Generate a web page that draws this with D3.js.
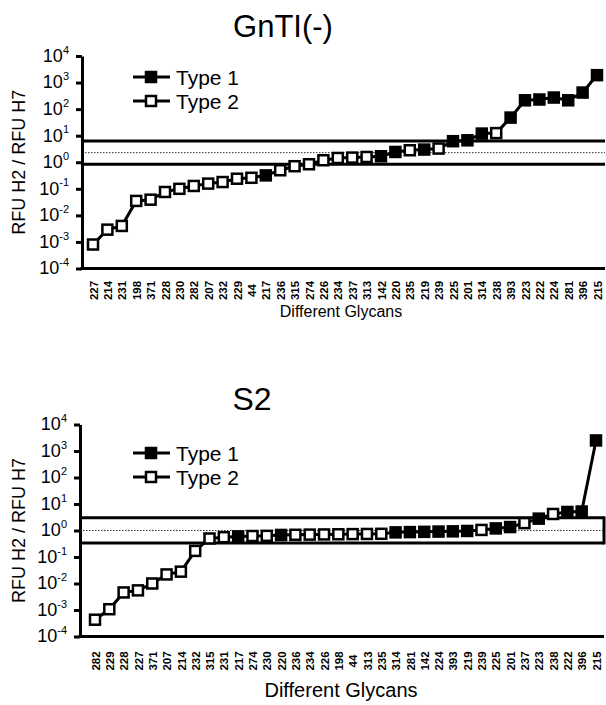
<!DOCTYPE html>
<html>
<head>
<meta charset="utf-8">
<script src="https://cdn.jsdelivr.net/npm/d3@7"></script>
<style>
  body { margin: 0; background: #fff; }
  svg { display: block; font-family: "Liberation Sans", Arial, sans-serif; }
</style>
</head>
<body>
<svg id="chart" width="606" height="705"></svg>
<script>
// glycan order along the x axis, one list per panel
var glycansGnTI = ["227","214","231","198","371","228","230","282","207","232","229","44","217","236","315","274","226","234",
  "237","313","142","220","235","219","239","225","201","314","238","393","223","222","224","281","396","215"];
var ratiosGnTI = [0.0008,0.0029,0.004,0.035,0.039,0.076,0.10,0.128,0.157,0.18,0.24,0.26,0.32,0.50,0.71,0.84,1.19,1.45,
  1.5,1.58,1.68,2.44,2.83,3.0,3.28,6.2,6.7,12,12.5,48,215,230,273,215,420,1900];

var glycansS2 = ["282","229","228","227","371","207","214","232","315","231","217","274","230","220","236","234","226","198",
  "44","313","235","314","281","142","224","393","219","239","225","201","237","223","238","222","396","215"];
var ratiosS2 = [0.00043,0.00107,0.0046,0.0055,0.010,0.022,0.028,0.17,0.50,0.56,0.60,0.62,0.63,0.68,0.69,0.70,0.71,0.72,
  0.73,0.74,0.75,0.85,0.87,0.89,0.91,0.93,0.96,1.05,1.2,1.35,1.9,2.8,4.2,5.0,5.2,2500];

// glycans drawn with filled squares
var type1Glycans = ["217","142","220","219","225","201","314","393","223","222","224","281","396","215"];

// lower, middle (dotted), upper cut-off
var cutoffsGnTI = [0.84, 2.3, 6.3];
var cutoffsS2 = [0.34, 1, 3];

var tickExponents = [-4,-3,-2,-1,0,1,2,3,4];
var legendLabels = ["Type 1","Type 2"];
var panelTitles = ["GnTI(-)","S2"];
var xTitle = "Different Glycans",
  yTitle = "RFU H2 / RFU H7";

var svg = d3.select("#chart");

function drawPanel(p) {
  var g = svg.append("g").attr("class", "panel");

  var x = d3.scalePoint()
    .domain(p.glycans)
    .range([p.x0, p.x1]);

  var y = d3.scaleLog()
    .domain([1e-4, 1e4])
    .range([p.bottom, p.top]);

  // cut-off lines
  g.append("line")
    .attr("x1", p.left).attr("x2", p.right)
    .attr("y1", y(p.cutoffs[0])).attr("y2", y(p.cutoffs[0]))
    .attr("stroke", "#000").attr("stroke-width", 3);
  g.append("line")
    .attr("x1", p.left).attr("x2", p.right)
    .attr("y1", y(p.cutoffs[2])).attr("y2", y(p.cutoffs[2]))
    .attr("stroke", "#000").attr("stroke-width", 3);
  g.append("line")
    .attr("x1", p.left).attr("x2", p.right)
    .attr("y1", y(p.cutoffs[1])).attr("y2", y(p.cutoffs[1]))
    .attr("stroke", "#333").attr("stroke-width", 1)
    .attr("stroke-dasharray", "1.5,1.5");
  if (p.box) {
    g.append("line")
      .attr("x1", p.right).attr("x2", p.right)
      .attr("y1", y(p.cutoffs[2]) - 1.5).attr("y2", y(p.cutoffs[0]) + 1.5)
      .attr("stroke", "#000").attr("stroke-width", 3);
  }

  // x axis
  var xAxis = g.append("g")
    .attr("transform", "translate(0," + p.bottom + ")")
    .call(d3.axisBottom(x).tickSize(0));
  xAxis.select(".domain").remove();
  xAxis.selectAll("text")
    .attr("y", 0)
    .attr("dy", "0.36em")
    .attr("transform", "translate(0," + p.labelOffset + ") rotate(-90)")
    .attr("text-anchor", "middle")
    .attr("font-family", "'Liberation Sans', Arial, sans-serif")
    .attr("font-weight", "bold")
    .attr("font-size", "11.5px")
    .attr("fill", "#000");
  g.append("line")
    .attr("x1", p.left - 1.5).attr("x2", p.right)
    .attr("y1", p.bottom).attr("y2", p.bottom)
    .attr("stroke", "#000").attr("stroke-width", 3);

  // y axis
  var yAxis = g.append("g")
    .attr("transform", "translate(" + p.left + ",0)")
    .call(d3.axisLeft(y)
      .tickValues(tickExponents.map(function (e) { return Math.pow(10, e); }))
      .tickSize(6)
      .tickSizeOuter(0)
      .tickPadding(7)
      .tickFormat(""));
  yAxis.select(".domain").attr("stroke", "#000").attr("stroke-width", 3);
  yAxis.selectAll(".tick line").attr("stroke", "#000").attr("stroke-width", 3);
  yAxis.selectAll(".tick text")
    .attr("font-family", "'Liberation Sans', Arial, sans-serif")
    .attr("font-size", "18px")
    .attr("fill", "#000")
    .attr("dy", "0.3em")
    .each(function (d) {
      var t = d3.select(this);
      t.append("tspan").text("10");
      t.append("tspan")
        .attr("dy", "-0.75em")
        .attr("font-size", "11px")
        .text(Math.round(Math.log10(d)));
    });

  // series line and markers
  var pts = p.glycans.map(function (k, i) { return {glycan: k, value: p.values[i]}; });

  var line = d3.line()
    .x(function (d) { return x(d.glycan); })
    .y(function (d) { return y(d.value); });

  g.append("path")
    .datum(pts)
    .attr("d", line)
    .attr("fill", "none")
    .attr("stroke", "#000")
    .attr("stroke-width", 3)
    .attr("stroke-linejoin", "round");

  g.append("g")
    .selectAll("rect")
    .data(pts)
    .enter().append("rect")
    .attr("x", function (d) { return x(d.glycan) - 5; })
    .attr("y", function (d) { return y(d.value) - 5; })
    .attr("width", 10)
    .attr("height", 10)
    .attr("fill", function (d) { return type1Glycans.indexOf(d.glycan) >= 0 ? "#000" : "#fff"; })
    .attr("stroke", "#000")
    .attr("stroke-width", 2.5);

  // legend
  var legend = g.append("g")
    .selectAll("g")
    .data(legendLabels)
    .enter().append("g")
    .attr("transform", function (d, i) { return "translate(0," + p.legendRows[i] + ")"; });
  legend.append("line")
    .attr("x1", 133).attr("x2", 170)
    .attr("stroke", "#000").attr("stroke-width", 3);
  legend.append("rect")
    .attr("x", 146).attr("y", -5)
    .attr("width", 10).attr("height", 10)
    .attr("fill", function (d, i) { return i === 0 ? "#000" : "#fff"; })
    .attr("stroke", "#000").attr("stroke-width", 2.5);
  legend.append("text")
    .attr("x", 176)
    .attr("dy", "0.36em")
    .attr("font-size", "21px")
    .text(function (d) { return d; });

  // titles
  g.append("text")
    .attr("x", p.titleX).attr("y", p.titleY)
    .attr("text-anchor", "middle")
    .attr("font-size", p.titleSize + "px")
    .text(p.title);

  g.append("text")
    .attr("x", p.xTitleX).attr("y", p.xTitleY)
    .attr("text-anchor", "middle")
    .attr("font-size", p.xTitleSize + "px")
    .text(xTitle);

  g.append("text")
    .attr("transform", "translate(25," + y(1) + ") rotate(-90)")
    .attr("text-anchor", "middle")
    .attr("font-size", "18px")
    .text(yTitle);
}

drawPanel({
  glycans: glycansGnTI, values: ratiosGnTI, cutoffs: cutoffsGnTI, box: false,
  left: 82, right: 605, top: 56, bottom: 268.5, x0: 93, x1: 597,
  labelOffset: 22, legendRows: [77, 101],
  title: panelTitles[0], titleX: 283, titleY: 37, titleSize: 31,
  xTitleX: 341, xTitleY: 317, xTitleSize: 16
});

drawPanel({
  glycans: glycansS2, values: ratiosS2, cutoffs: cutoffsS2, box: true,
  left: 80, right: 604, top: 424.5, bottom: 636.5, x0: 95, x1: 596,
  labelOffset: 24.5, legendRows: [453, 477],
  title: panelTitles[1], titleX: 252, titleY: 410, titleSize: 32,
  xTitleX: 341, xTitleY: 697, xTitleSize: 20
});
</script>
</body>
</html>
